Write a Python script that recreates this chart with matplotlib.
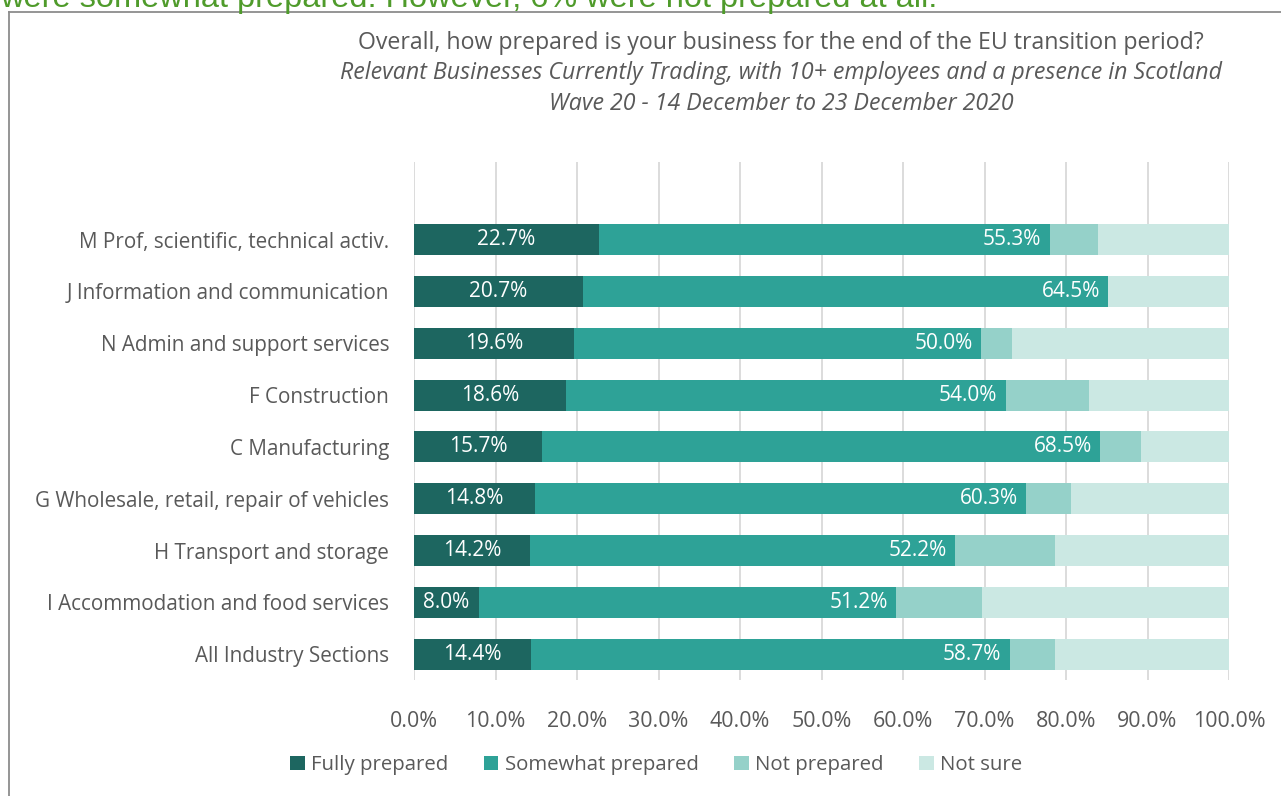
import matplotlib
matplotlib.use("Agg")
import matplotlib.pyplot as plt
from matplotlib.lines import Line2D

plt.rcParams['font.family'] = ['Open Sans', 'DejaVu Sans']

categories = [
    "M Prof, scientific, technical activ.",
    "J Information and communication",
    "N Admin and support services",
    "F Construction",
    "C Manufacturing",
    "G Wholesale, retail, repair of vehicles",
    "H Transport and storage",
    "I Accommodation and food services",
    "All Industry Sections",
]
fully = [22.7, 20.7, 19.6, 18.6, 15.7, 14.8, 14.2, 8.0, 14.4]
somewhat = [55.3, 64.5, 50.0, 54.0, 68.5, 60.3, 52.2, 51.2, 58.7]
not_prepared = [5.9, 0.0, 3.8, 10.2, 5.0, 5.5, 12.3, 10.5, 5.6]
not_sure = [16.1, 14.8, 26.6, 17.2, 10.8, 19.4, 21.3, 30.3, 21.3]

series_names = ["Fully prepared", "Somewhat prepared", "Not prepared", "Not sure"]
colors = ["#1d6660", "#2ea297", "#95d1c9", "#cbe8e3"]
x_ticks = [0, 10, 20, 30, 40, 50, 60, 70, 80, 90, 100]

TEXT = "#595959"
W, H = 1281, 796
fig = plt.figure(figsize=(W / 100, H / 100), dpi=100)


def fx(px):
    return px / W


def fy(py):
    return 1 - py / H


# chart frame: left and top edges
frame_kw = dict(transform=fig.transFigure, color="#8c8c8c", linewidth=1.3)
fig.add_artist(Line2D([fx(9), fx(9)], [0, fy(12)], **frame_kw))
fig.add_artist(Line2D([fx(9), 1.0], [fy(12), fy(12)], **frame_kw))

# heading sentence above the frame, running off the top edge of the figure
fig.text(0.0, fy(7), "were somewhat prepared. However, 6% were not prepared at all.",
         color="#4f9b2b", fontsize=23.4, ha="left", va="baseline",
         family=["Liberation Sans", "DejaVu Sans"])

title_x = fx(781)
fig.text(title_x, fy(49), "Overall, how prepared is your business for the end of the EU transition period?",
         ha="center", va="baseline", fontsize=16.7, color=TEXT)
fig.text(title_x, fy(79), "Relevant Businesses Currently Trading, with 10+ employees and a presence in Scotland",
         ha="center", va="baseline", fontsize=16.7, color=TEXT, style="italic")
fig.text(title_x, fy(110), "Wave 20 - 14 December to 23 December 2020",
         ha="center", va="baseline", fontsize=16.7, color=TEXT, style="italic")

ax = fig.add_axes([fx(414), fy(680), fx(1229) - fx(414), fy(162) - fy(680)])

y = list(range(len(categories)))
series = [fully, somewhat, not_prepared, not_sure]
lefts = [0.0] * len(categories)
bars = []
for vals, name, col in zip(series, series_names, colors):
    b = ax.barh(y, vals, left=lefts, height=0.6, color=col, label=name, zorder=3)
    bars.append(b)
    lefts = [l + v for l, v in zip(lefts, vals)]

# value labels: centred in the first segment, inside the end of the second
ax.bar_label(bars[0], labels=[f"{v:.1f}%" for v in fully], label_type="center",
             color="white", fontsize=15, zorder=4)
for rect, v in zip(bars[1].patches, somewhat):
    ax.annotate(f"{v:.1f}%", (rect.get_x() + rect.get_width(), rect.get_y() + rect.get_height() / 2),
                xytext=(-6, 0), textcoords="offset points", ha="right", va="center",
                color="white", fontsize=15, zorder=4)

ax.set_ylim(len(categories) - 0.5, -1.5)
ax.set_xlim(0, 100)
ax.set_yticks(y)
ax.set_yticklabels(categories, fontsize=14.9, color=TEXT)
ax.set_xticks(x_ticks)
ax.set_xticklabels([f"{t:.1f}%" for t in x_ticks], fontsize=15.4, color=TEXT)
ax.tick_params(axis="both", length=0)
ax.tick_params(axis="y", pad=18)
ax.tick_params(axis="x", pad=22)
ax.xaxis.grid(True, color="#d9d9d9", linewidth=1.3, zorder=0)
for s in ax.spines.values():
    s.set_visible(False)

fig.legend(handles=bars, labels=series_names, loc="center", bbox_to_anchor=(fx(656), fy(765)),
           ncol=4, frameon=False, fontsize=14.7, handlelength=0.72, handleheight=0.72,
           handletextpad=0.3, columnspacing=1.75, labelcolor=TEXT)

fig.savefig("out.png", dpi=100)
